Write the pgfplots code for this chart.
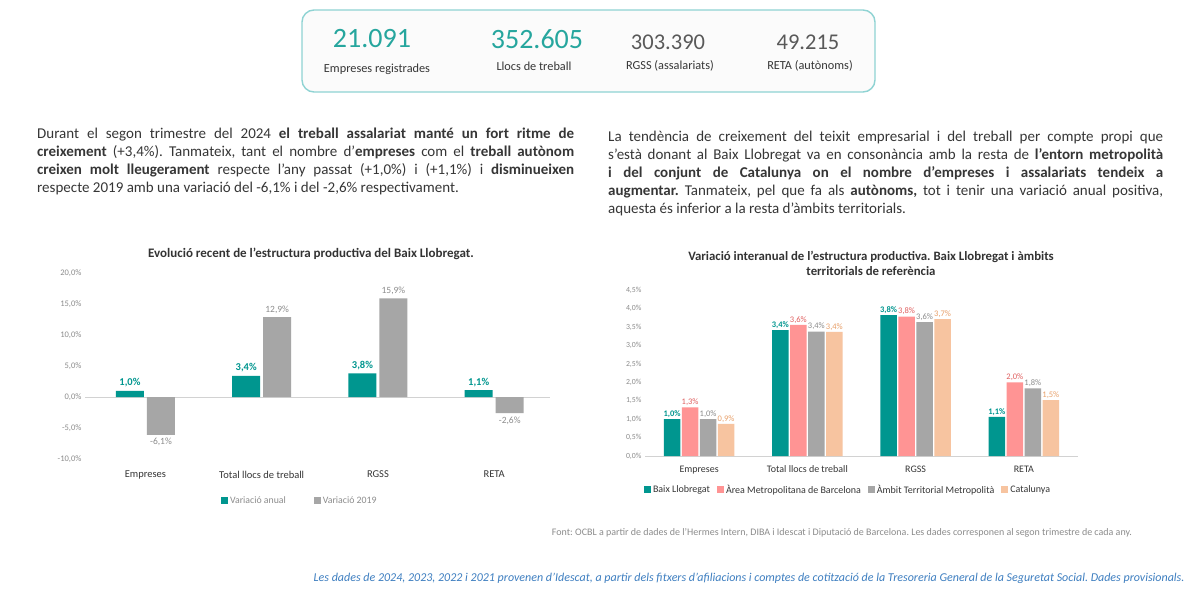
\documentclass[border=0pt]{standalone}
\usepackage{fontspec}
\setmainfont{Carlito}
\usepackage{pgfplots}
\pgfplotsset{compat=1.18}
\definecolor{tealc}{HTML}{00968F}
\definecolor{numteal}{HTML}{26A69E}
\definecolor{grayc}{HTML}{A6A6A6}
\definecolor{pinkc}{HTML}{FF9494}
\definecolor{peachc}{HTML}{F7C4A0}
\definecolor{pinktxt}{HTML}{E06060}
\definecolor{peachtxt}{HTML}{E8A06A}
\definecolor{graytxt}{HTML}{8C8C8C}
\definecolor{boxc}{HTML}{8FD3D3}
\definecolor{bodytxt}{HTML}{363636}
\definecolor{bluetxt}{HTML}{3D7EC0}
\pgfplotsset{
  sqlegend/.style={legend image code/.code={\fill[##1, draw=none] (0pt,-3.5pt) rectangle (7pt,3.5pt);}}
}
\begin{document}
\frenchspacing
\begin{tikzpicture}
\path[use as bounding box, fill=white] (0pt,0pt) rectangle (1200pt,-589pt);

% ---- top box
\draw[boxc, line width=1.4pt, fill=gray!3, rounded corners=12pt] (302pt,-10pt) rectangle (875pt,-92pt);
\node[font=\fontsize{28}{30}\selectfont, text=numteal] at (372pt,-39pt) {21.091};
\node[font=\fontsize{28}{30}\selectfont, text=numteal] at (537pt,-39pt) {352.605};
\node[font=\fontsize{22.5}{24}\selectfont, text=black!65] at (668pt,-42pt) {303.390};
\node[font=\fontsize{22.5}{24}\selectfont, text=black!65] at (808pt,-42pt) {49.215};
\node[font=\fontsize{12.3}{14}\selectfont, text=bodytxt] at (377pt,-69pt) {Empreses registrades};
\node[font=\fontsize{12.3}{14}\selectfont, text=bodytxt] at (534pt,-66pt) {Llocs de treball};
\node[font=\fontsize{12.3}{14}\selectfont, text=bodytxt] at (670pt,-66pt) {RGSS (assalariats)};
\node[font=\fontsize{12.3}{14}\selectfont, text=bodytxt] at (810pt,-66pt) {RETA (autònoms)};

% ---- paragraphs
\node[anchor=north west, inner sep=0pt, text width=537pt, align=justify, text=bodytxt,
      font=\fontsize{15}{18}\selectfont] at (37pt,-127.5pt) {%
Durant el segon trimestre del 2024 \textbf{el treball assalariat manté un fort ritme de}\linebreak
\textbf{creixement} (+3,4\%). Tanmateix, tant el nombre d'\textbf{empreses} com el \textbf{treball autònom}\linebreak
\textbf{creixen molt lleugerament} respecte l'any passat (+1,0\%) i (+1,1\%) i \textbf{disminueixen}\linebreak
respecte 2019 amb una variació del -6,1\% i del -2,6\% respectivament.};

\node[anchor=north west, inner sep=0pt, text width=555pt, align=justify, text=bodytxt,
      font=\fontsize{15}{18}\selectfont] at (608pt,-130.5pt) {%
La tendència de creixement del teixit empresarial i del treball per compte propi que\linebreak
s'està donant al Baix Llobregat va en consonància amb la resta de \textbf{l'entorn metropolità}\linebreak
\textbf{i del conjunt de Catalunya on el nombre d'empreses i assalariats tendeix a}\linebreak
\textbf{augmentar.} Tanmateix, pel que fa als \textbf{autònoms,} tot i tenir una variació anual positiva,\linebreak
aquesta és inferior a la resta d'àmbits territorials.};

% ---- titles
\node[font=\bfseries\fontsize{13}{15}\selectfont, text=black!80] at (311pt,-254pt)
  {Evolució recent de l'estructura productiva del Baix Llobregat.};
\node[font=\bfseries\fontsize{12.8}{15}\selectfont, text=black!80, align=center] at (871pt,-263.5pt)
  {Variació interanual de l'estructura productiva. Baix Llobregat i àmbits\\ territorials de referència};

% ---- left chart
\begin{axis}[
  at={(85pt,-459pt)}, anchor=south west,
  scale only axis, width=465pt, height=186pt,
  xmin=-0.52, xmax=3.48, ymin=-10, ymax=20,
  ybar=3pt, bar width=28pt,
  axis line style={draw=none}, tick style={draw=none},
  ytick={-10,-5,...,20},
  yticklabel={\pgfmathprintnumber[fixed,fixed zerofill,precision=1,use comma,assume math mode=true]{\tick}\%},
  yticklabel style={font=\fontsize{8.5}{9}\selectfont, text=graytxt},
  xtick={0,1,2,3},
  xticklabels={Empreses, Total llocs de treball, RGSS, RETA},
  xticklabel style={font=\fontsize{10.5}{12}\selectfont, text=bodytxt, yshift=-4pt},
  extra y ticks={0}, extra y tick labels={},
  extra y tick style={grid=major, major grid style={draw=gray!35, line width=0.8pt}},
  nodes near coords={\pgfmathprintnumber[fixed,fixed zerofill,precision=1,use comma,assume math mode=true]{\pgfplotspointmeta}\%},
  sqlegend,
  legend style={at={(0.462,-0.225)}, anchor=center, draw=none, fill=none,
    legend columns=2, font=\fontsize{9.8}{11}\selectfont, text=graytxt,
    /tikz/every even column/.append style={column sep=26pt}},
]
\addplot[fill=tealc, draw=none,
  every node near coord/.append style={font=\bfseries\fontsize{10.5}{11}\selectfont, text=tealc}]
  coordinates {(0,1.0) (1,3.4) (2,3.8) (3,1.1)};
\addplot[fill=grayc, draw=none,
  every node near coord/.append style={font=\fontsize{9.5}{10}\selectfont, text=graytxt}]
  coordinates {(0,-6.1) (1,12.9) (2,15.9) (3,-2.6)};
\legend{Variació anual, Variació 2019}
\end{axis}

% ---- right chart
\begin{axis}[
  at={(645pt,-456pt)}, anchor=south west,
  scale only axis, width=433pt, height=165.6pt,
  xmin=-0.5, xmax=3.5, ymin=0, ymax=4.5,
  ybar=1.5pt, bar width=16.5pt,
  axis line style={draw=none}, tick style={draw=none},
  ytick={0,0.5,...,4.5},
  yticklabel={\pgfmathprintnumber[fixed,fixed zerofill,precision=1,use comma,assume math mode=true]{\tick}\%},
  yticklabel style={font=\fontsize{7.8}{8}\selectfont, text=graytxt},
  xtick={0,1,2,3},
  xticklabels={Empreses, Total llocs de treball, RGSS, RETA},
  xticklabel style={font=\fontsize{10}{11}\selectfont, text=bodytxt, yshift=-2pt},
  extra y ticks={0}, extra y tick labels={},
  extra y tick style={grid=major, major grid style={draw=gray!35, line width=0.8pt}},
  nodes near coords={\pgfmathprintnumber[fixed,fixed zerofill,precision=1,use comma,assume math mode=true]{\pgfplotspointmeta}\%},
  every node near coord/.append style={inner sep=1.5pt},
  sqlegend,
  legend style={at={(0.469,-0.205)}, anchor=center, draw=none, fill=none,
    legend columns=4, font=\fontsize{10}{11}\selectfont, text=bodytxt,
    /tikz/every even column/.append style={column sep=5pt}},
]
\addplot[fill=tealc, draw=none,
  every node near coord/.append style={font=\bfseries\fontsize{8.5}{9}\selectfont, text=tealc}]
  coordinates {(0,1.0) (1,3.42) (2,3.83) (3,1.06)};
\addplot[fill=pinkc, draw=none,
  every node near coord/.append style={font=\fontsize{8.5}{9}\selectfont, text=pinktxt}]
  coordinates {(0,1.32) (1,3.56) (2,3.79) (3,2.0)};
\addplot[fill=grayc, draw=none,
  every node near coord/.append style={font=\fontsize{8.5}{9}\selectfont, text=graytxt}]
  coordinates {(0,1.0) (1,3.38) (2,3.64) (3,1.84)};
\addplot[fill=peachc, draw=none,
  every node near coord/.append style={font=\fontsize{8.5}{9}\selectfont, text=peachtxt}]
  coordinates {(0,0.87) (1,3.37) (2,3.72) (3,1.52)};
\legend{Baix Llobregat, Àrea Metropolitana de Barcelona, Àmbit Territorial Metropolità, Catalunya}
\end{axis}

% ---- footer
\node[font=\fontsize{10}{11}\selectfont, text=graytxt] at (842pt,-533pt)
  {Font: OCBL a partir de dades de l'Hermes Intern, DIBA i Idescat i Diputació de Barcelona. Les dades corresponen al segon trimestre de cada any.};
\node[anchor=east, font=\itshape\fontsize{12}{13}\selectfont, text=bluetxt] at (1188pt,-578pt)
  {Les dades de 2024, 2023, 2022 i 2021 provenen d'Idescat, a partir dels fitxers d'afiliacions i comptes de cotització de la Tresoreria General de la Seguretat Social. Dades provisionals.};
\end{tikzpicture}
\end{document}
